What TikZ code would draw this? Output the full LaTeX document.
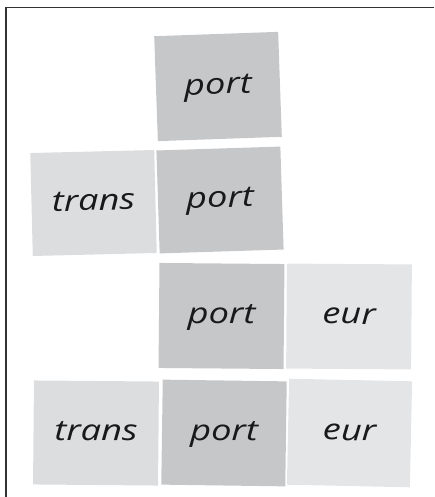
\documentclass[tikz,border=0pt]{standalone}
\usepackage{fontspec}
\usepackage{tikz}
\newfontfamily\tilefont[FakeStretch=1.25]{Open Sans}
\definecolor{rootgray}{HTML}{C6C7C9}
\definecolor{prefixgray}{HTML}{DCDDDF}
\definecolor{suffixgray}{HTML}{E4E5E7}
\definecolor{framegray}{HTML}{333333}

\begin{document}
\begin{tikzpicture}[x = 1pt, y = -1pt,
    tile/.style = {minimum width = 124pt, minimum height = 105pt, inner sep = 0,
        text height = 15pt, text depth = 0pt, font = \tilefont\itshape\fontsize{29}{30}\selectfont,
        text = black!90}]
    \useasboundingbox (0, 0) rectangle (434, 497);

    %% frame (only top and left are shown)
    \draw[framegray, line width = 1.6pt] (434, 7.5) -- (6, 7.5) -- (6, 497);

    %% row 1
    \node[tile, fill = rootgray, rotate = 2] (port1) at (218, 86.5) {port};

    %% row 2
    \node[tile, fill = prefixgray, rotate = 1.4, minimum height = 103pt] (trans2) at (93.5, 203) {trans};
    \node[tile, fill = rootgray, rotate = 1.8, minimum height = 103pt] (port2) at (220, 200) {port};

    %% row 3
    \node[tile, fill = rootgray, rotate = -0.5, minimum width = 125pt] (port3) at (221.5, 316) {port};
    \node[tile, fill = suffixgray, rotate = -0.4, minimum width = 125pt] (eur3) at (349, 316.5) {eur};

    %% row 4
    \node[tile, fill = prefixgray, rotate = -0.5, minimum width = 125pt, minimum height = 104pt] (trans4) at (96, 433) {trans};
    \node[tile, fill = rootgray, rotate = -0.8] (port4) at (224, 433) {port};
    \node[tile, fill = suffixgray, rotate = -1.2, minimum width = 123pt, minimum height = 106pt] (eur4) at (349.5, 433) {eur};
\end{tikzpicture}
\end{document}
